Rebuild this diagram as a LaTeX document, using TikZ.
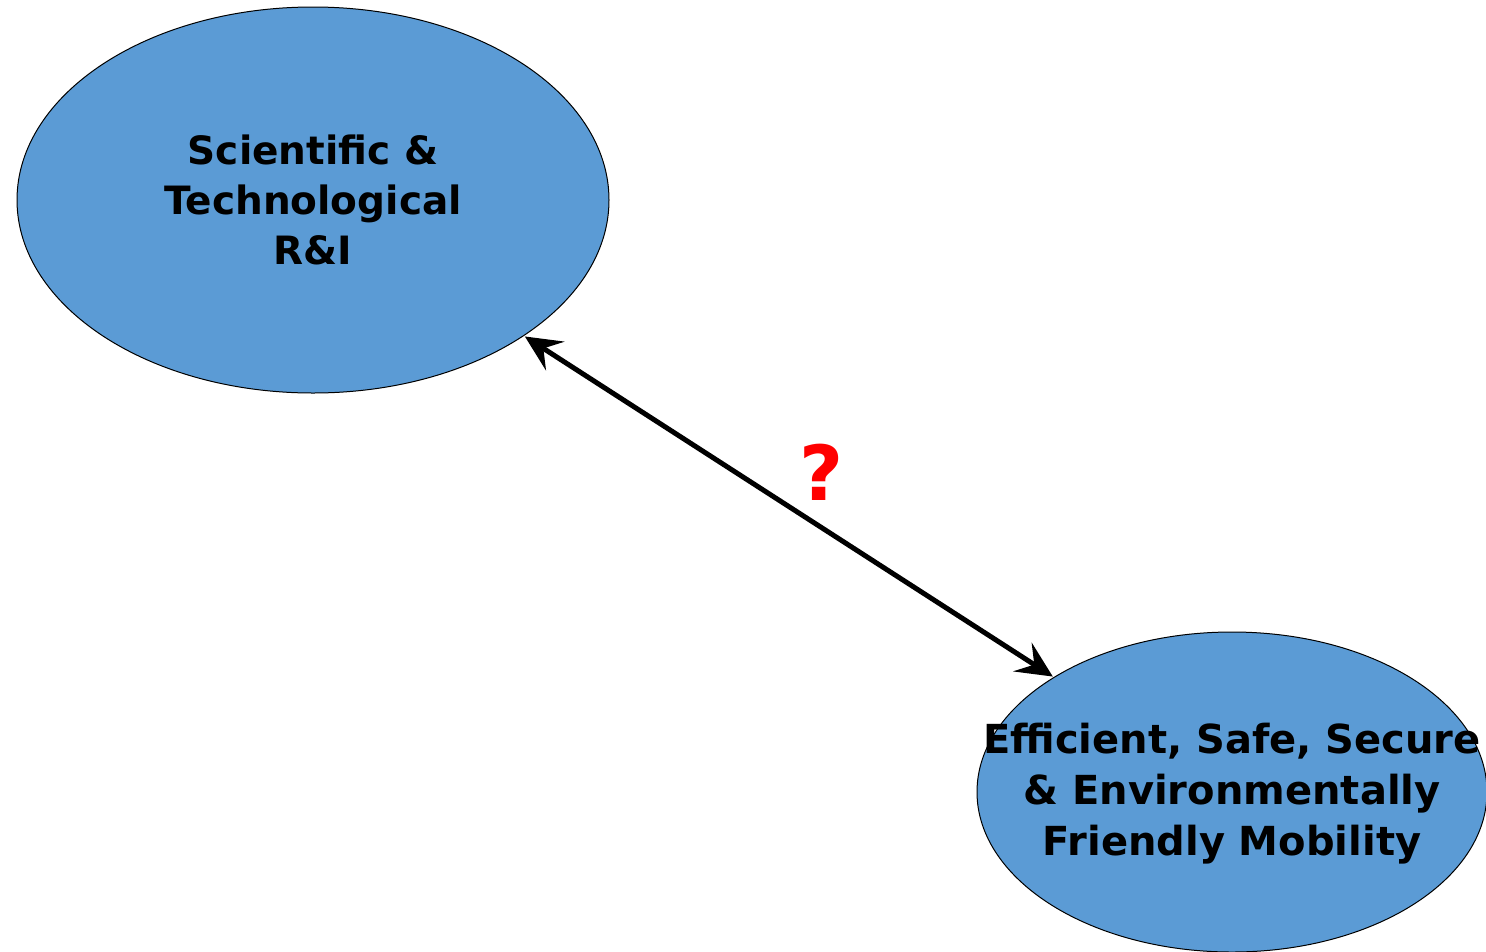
\documentclass[tikz,border=0pt]{standalone}
\usepackage{fontspec}
\setmainfont{DejaVu Sans}
\usetikzlibrary{shapes.geometric,arrows.meta}
\definecolor{ellblue}{HTML}{5B9BD5}
\tikzset{
  ell/.style={ellipse, draw=black, line width=1pt, fill=ellblue, inner sep=0pt, align=center,
    font=\bfseries\fontsize{39}{50}\selectfont},
  conn/.style={line width=5pt, {Stealth[length=36pt,width=34pt,inset=14pt]}-{Stealth[length=36pt,width=34pt,inset=14pt]}, shorten <=1pt, shorten >=1pt}
}
\begin{document}
\begin{tikzpicture}[x=1pt,y=-1pt]
\useasboundingbox (0,0) rectangle (1486,951);
\clip (0,0) rectangle (1486,951);
\node[ell, minimum width=592pt, minimum height=386pt] (sci) at (313,200) {Scientific \&\\Technological\\R\&I};
\node[ell, minimum width=510pt, minimum height=320pt] (mob) at (1232,792) {};
\node[font=\bfseries\fontsize{40}{51}\selectfont, align=center] (mobtxt) at (1232,794) {Efficient, Safe, Secure\\\& Environmentally\\Friendly Mobility};
\draw[conn] (sci) -- (mob);
\node[text=red, font=\bfseries\fontsize{76}{76}\selectfont] (q) at (822,472) {?};
\end{tikzpicture}
\end{document}
